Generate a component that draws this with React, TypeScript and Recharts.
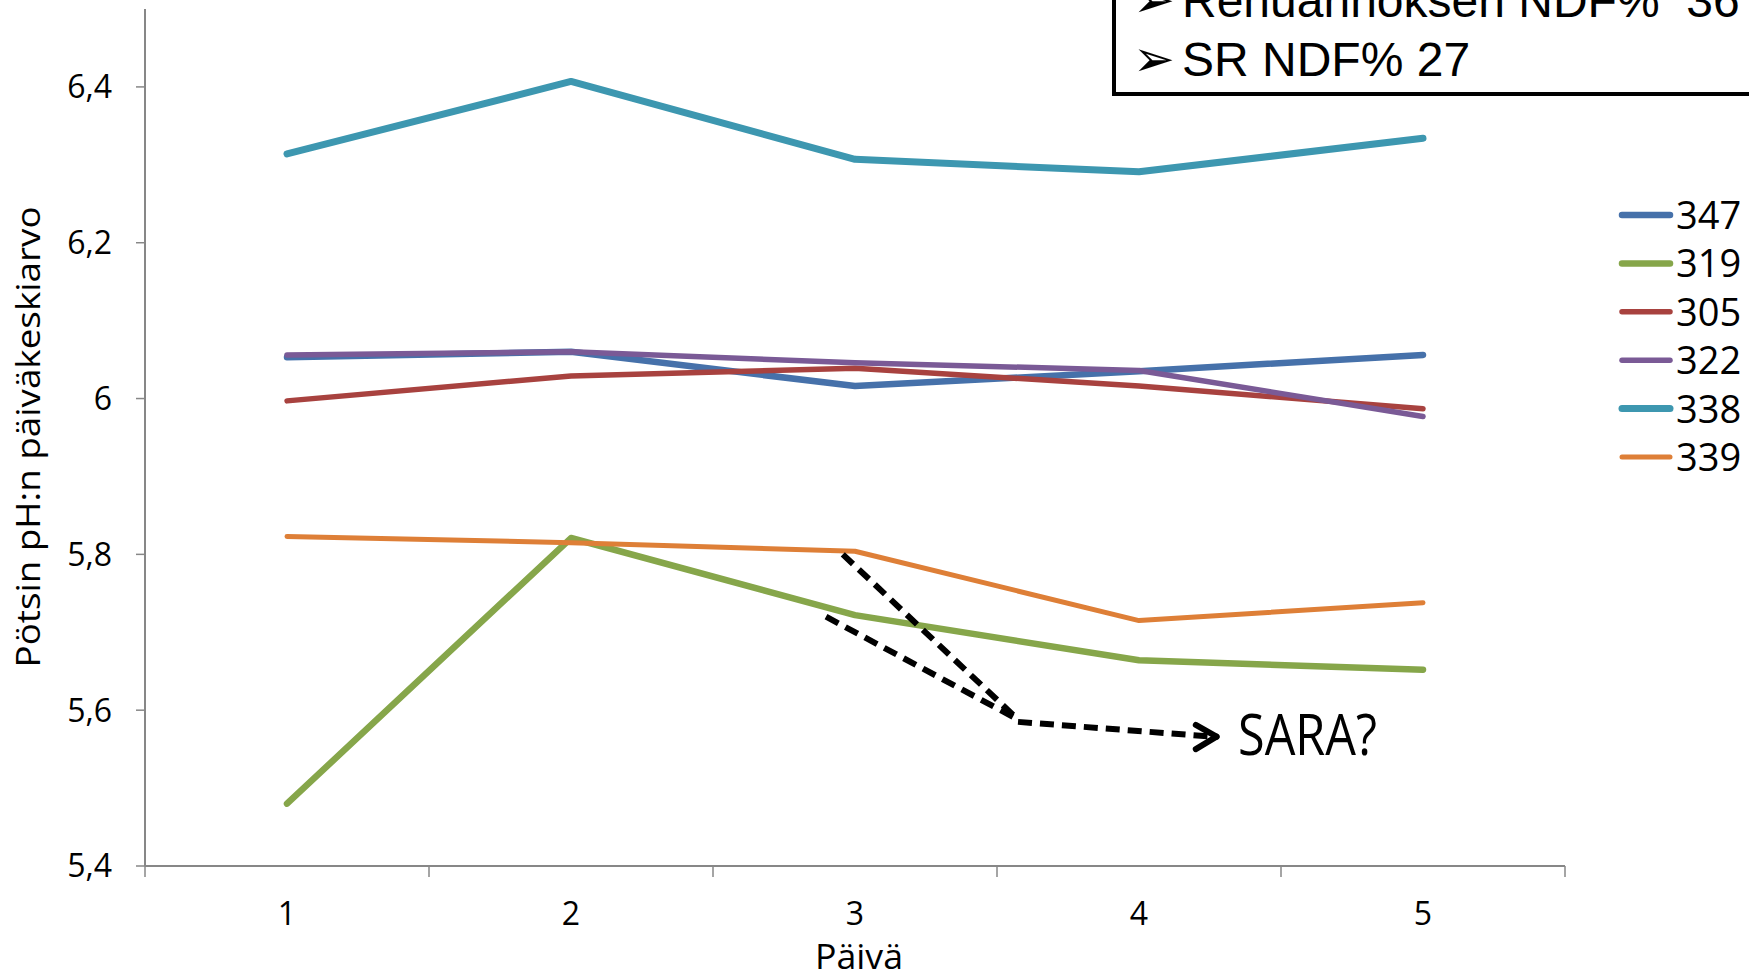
import React from "react"
import { LineChart, Line, XAxis, YAxis, ReferenceLine } from "recharts"

// day numbers on the x axis
const days = [1, 2, 3, 4, 5]

// daily mean rumen pH per cow
const cow347 = [6.053, 6.06, 6.016, 6.035, 6.056]
const cow319 = [5.48, 5.821, 5.722, 5.664, 5.652]
const cow305 = [5.997, 6.029, 6.039, 6.016, 5.987]
const cow322 = [6.056, 6.06, 6.046, 6.036, 5.977]
const cow338 = [6.314, 6.407, 6.307, 6.291, 6.334]
const cow339 = [5.823, 5.815, 5.804, 5.715, 5.738]

const yTicks = [5.4, 5.6, 5.8, 6, 6.2, 6.4]

// dashed "SARA?" arrows, in data units (day, pH)
const arrowA = [{ x: 2.957, y: 5.8 }, { x: 3.574, y: 5.588 }]
const arrowB = [{ x: 2.898, y: 5.72 }, { x: 3.574, y: 5.588 }]
const arrowC = [{ x: 3.574, y: 5.585 }, { x: 4.26, y: 5.566 }]
const headUp = [{ x: 4.2, y: 5.581 }, { x: 4.273, y: 5.566 }]
const headDown = [{ x: 4.2, y: 5.55 }, { x: 4.273, y: 5.566 }]

const series = [
  { key: "347", values: cow347, color: "#4671AA", width: 6.5 },
  { key: "319", values: cow319, color: "#86A64A", width: 6.5 },
  { key: "305", values: cow305, color: "#A8423F", width: 5.5 },
  { key: "322", values: cow322, color: "#7A5A96", width: 5.5 },
  { key: "338", values: cow338, color: "#3D97B0", width: 7 },
  { key: "339", values: cow339, color: "#DE7F37", width: 5 },
]

const data = days.map((d, i) => {
  const row: Record<string, number> = { day: d }
  series.forEach((s) => (row[s.key] = s.values[i]))
  return row
})

const W = 1749
const H = 976
const AXIS = "#878787"
const HALF_BAND = 142
const FONT = "Open Sans"

const fmt = (v: number) => String(Number(v.toFixed(1))).replace(".", ",")

function DayTick(props: any) {
  const { x, y, payload, index } = props
  return (
    <g>
      <line x1={x - HALF_BAND} x2={x - HALF_BAND} y1={y} y2={y + 11} stroke={AXIS} strokeWidth={1.5} />
      {index === days.length - 1 && (
        <line x1={x + HALF_BAND} x2={x + HALF_BAND} y1={y} y2={y + 11} stroke={AXIS} strokeWidth={1.5} />
      )}
      <text x={x} y={y + 59} textAnchor="middle" fontFamily={FONT} fontSize={32} fill="#000">
        {payload.value}
      </text>
    </g>
  )
}

export default function App() {
  return (
    <div style={{ position: "absolute", left: 0, top: 0, width: W, height: H, background: "#fff" }}>
      <LineChart width={W} height={H} data={data} margin={{ top: 9, right: 184, left: 0, bottom: 0 }}>
        <XAxis
          dataKey="day"
          type="number"
          domain={[0.5, 5.5]}
          ticks={days}
          height={110}
          tickLine={false}
          tickSize={0}
          tickMargin={0}
          axisLine={{ stroke: AXIS, strokeWidth: 2 }}
          tick={<DayTick />}
        />
        <YAxis
          type="number"
          domain={[5.4, 6.5]}
          ticks={yTicks}
          width={145}
          tickSize={9}
          tickMargin={24}
          tickLine={{ stroke: AXIS, strokeWidth: 1.5 }}
          axisLine={{ stroke: AXIS, strokeWidth: 2 }}
          tickFormatter={fmt}
          tick={{ fill: "#000", fontSize: 32, fontFamily: FONT }}
          allowDataOverflow
        />
        {series.map((s) => (
          <Line
            key={s.key}
            dataKey={s.key}
            type="linear"
            stroke={s.color}
            strokeWidth={s.width}
            strokeLinejoin="round"
            strokeLinecap="round"
            dot={false}
            isAnimationActive={false}
          />
        ))}
        {[arrowA, arrowB, arrowC].map((seg, i) => (
          <ReferenceLine key={"a" + i} segment={seg} stroke="#000" strokeWidth={6} strokeDasharray="14 8" />
        ))}
        {[headUp, headDown].map((seg, i) => (
          <ReferenceLine key={"h" + i} segment={seg} stroke="#000" strokeWidth={6} strokeLinecap="round" />
        ))}
      </LineChart>

      <svg
        width={W}
        height={H}
        style={{ position: "absolute", left: 0, top: 0, pointerEvents: "none" }}
      >
        {/* axis titles */}
        <text
          transform="translate(40,437) rotate(-90)"
          textAnchor="middle"
          fontFamily={FONT}
          fontSize={32}
          textLength={461}
          lengthAdjust="spacingAndGlyphs"
          fill="#000"
        >
          Pötsin pH:n päiväkeskiarvo
        </text>
        <text
          x={815}
          y={969}
          fontFamily={FONT}
          fontSize={34}
          textLength={88}
          lengthAdjust="spacingAndGlyphs"
          fill="#000"
        >
          Päivä
        </text>

        {/* legend */}
        {series.map((s, i) => {
          const y = 215 + i * 48.4
          return (
            <g key={s.key}>
              <line x1={1622} x2={1670} y1={y} y2={y} stroke={s.color} strokeWidth={s.width} strokeLinecap="round" />
              <text x={1676} y={y + 14} fontFamily={FONT} fontSize={38} fill="#000">
                {s.key}
              </text>
            </g>
          )
        })}

        {/* SARA note */}
        <text
          x={1238}
          y={755}
          fontFamily={FONT}
          fontSize={56}
          textLength={139}
          lengthAdjust="spacingAndGlyphs"
          fill="#000"
        >
          SARA?
        </text>

        {/* NDF box */}
        <rect x={1114} y={-10} width={700} height={104} fill="#fff" stroke="#000" strokeWidth={4} />
        <text x={1133} y={17} fontFamily="DejaVu Sans" fontSize={50} fill="#000">➢</text>
        <text x={1182} y={17} fontFamily="Liberation Sans" fontSize={48} fill="#000" style={{ whiteSpace: "pre" }}>
          {"Rehuannoksen NDF%  36"}
        </text>
        <text x={1133} y={76} fontFamily="DejaVu Sans" fontSize={50} fill="#000">➢</text>
        <text x={1182} y={76} fontFamily="Liberation Sans" fontSize={48} fill="#000">
          SR NDF% 27
        </text>
      </svg>
    </div>
  )
}
